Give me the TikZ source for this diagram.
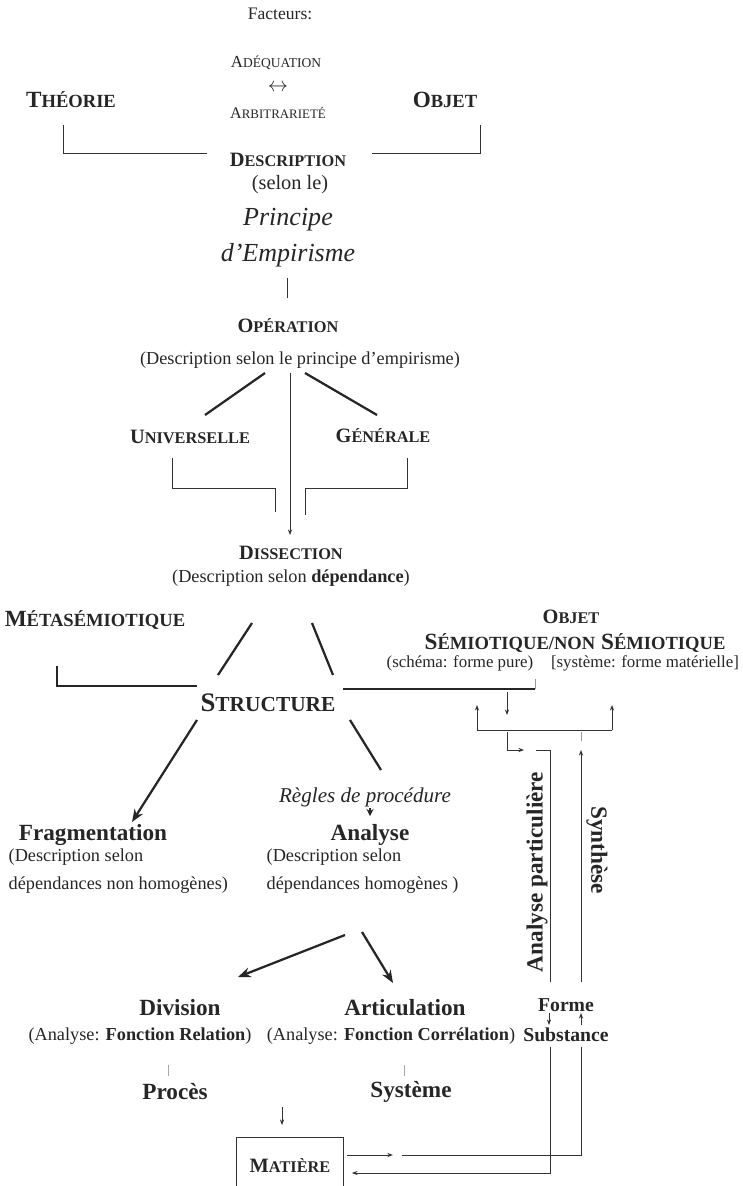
\documentclass[tikz,border=0pt]{standalone}
\usepackage{fontspec}
\setmainfont{Liberation Serif}
\usetikzlibrary{arrows.meta,calc,positioning}
\newcommand{\fsc}[2]{#1\scalebox{0.8}{#2}}

\begin{document}
\begin{tikzpicture}[
x=0.025cm, y=-0.025cm,
every node/.style={inner sep=1pt, text=black!85},
heading/.style={font=\bfseries\fontsize{16.5}{19}\selectfont},
subhead/.style={font=\bfseries\fontsize{14.5}{17}\selectfont},
gloss/.style={font=\fontsize{13}{20}\selectfont},
term/.style={font=\bfseries\fontsize{16.5}{19}\selectfont},
minorterm/.style={font=\bfseries\fontsize{14}{16}\selectfont},
motto/.style={font=\itshape\fontsize{18.5}{21}\selectfont},
fineline/.style={draw=black!80, line width=0.6pt},
midline/.style={draw=black!85, line width=1.3pt},
heavyline/.style={draw=black!85, line width=1.6pt},
tinyarrow/.style={fineline, -{Stealth[length=4pt,width=3pt]}},
bigarrow/.style={heavyline, -{Stealth[length=9pt,width=7pt]}}
]
    \useasboundingbox (0,0) rectangle (743,1186);

    % Top: theorie / objet
    \node (facteurs) at (280,14) [font=\fontsize{12.5}{15}\selectfont] {Facteurs:};
    \node (adeq) at (276,63) [font=\fontsize{12}{14}\selectfont] {\fsc{A}{DÉQUATION}};
    \node (lr) at (278,88) [font=\fontsize{15}{17}\selectfont] {$\leftrightarrow$};
    \node (arbi) at (278,113) [font=\fontsize{11.5}{14}\selectfont] {\fsc{A}{RBITRARIETÉ}};
    \node[heading] (theo) at (71,100) {\fsc{T}{HÉORIE}};
    \node[heading] (objet) at (445,100) {\fsc{O}{BJET}};
    \node[subhead] (desc) at (288,160) {\fsc{D}{ESCRIPTION}};
    \node (selon) at (290,185) [font=\fontsize{14.5}{17}\selectfont] {(selon le)};
    \node[motto] (princ) at (288,220) {Principe};
    \node[motto] (empir) at (288,255) {d'Empirisme};

    \draw[fineline] ($(theo)+(-8,25)$) |- ($(desc)+(-81,-7)$);
    \draw[fineline] ($(objet)+(35,25)$) |- ($(desc)+(84,-7)$);

    % Operation
    \node[subhead] (oper) at (288,326) {\fsc{O}{PÉRATION}};
    \node[gloss] (operd) at (300,360) {(Description selon le principe d'empirisme)};
    \node[subhead] (univ) at (190,437) {\fsc{U}{NIVERSELLE}};
    \node[subhead] (gene) at (383,436) {\fsc{G}{ÉNÉRALE}};
    \node[subhead] (diss) at (291,553) {\fsc{D}{ISSECTION}};
    \node[gloss] (dissd) at (291,578) {(Description selon \textbf{dépendance})};

    \draw[fineline] ($(empir)+(-1,23)$) -- ($(oper)+(-1,-28)$);
    \draw[heavyline] ($(operd)+(-35,13)$) -- ($(univ)+(15,-22)$);
    \draw[heavyline] ($(operd)+(5,13)$) -- ($(gene)+(-6,-21)$);
    \draw[tinyarrow] ($(operd)+(-10,13)$) -- ($(diss)+(-1,-18)$);
    \draw[fineline] ($(univ)+(-18,21)$) |- ($(diss)+(-16,-65)$) -- ($(diss)+(-16,-41)$);
    \draw[fineline] ($(gene)+(24,22)$) |- ($(diss)+(14,-65)$) -- ($(diss)+(14,-38)$);

    % Structure
    \node[heading] (meta) at (95,620) {\fsc{M}{ÉTASÉMIOTIQUE}};
    \node (struct) at (268,703) [font=\bfseries\fontsize{19}{22}\selectfont] {\fsc{S}{TRUCTURE}};
    \node[subhead] (objet2) at (571,617) {\fsc{O}{BJET}};
    \node[heading] (semio) at (575,643) {\fsc{S}{ÉMIOTIQUE/NON} \fsc{S}{ÉMIOTIQUE}};
    \node (schema) at (460,663) [font=\fontsize{12}{14}\selectfont] {(schéma: forme pure)};
    \node (systeme) at (645,663) [font=\fontsize{12}{14}\selectfont] {[système: forme matérielle]};

    \draw[heavyline] ($(dissd)+(-39,45)$) -- ($(struct)+(-50,-28)$);
    \draw[heavyline] ($(dissd)+(21,45)$) -- ($(struct)+(65,-28)$);
    \draw[midline] ($(meta)+(-38,46)$) |- ($(struct)+(-71,-17)$);
    \draw[midline] ($(struct)+(75,-14)$) -- ($(schema)+(75,26)$);
    \draw[fineline, black!40] ($(schema)+(75,26)$) -- ++(0,-10);

    % Fragmentation / Analyse
    \node (regles) at (365,797) [font=\itshape\fontsize{15}{18}\selectfont] {Règles de procédure};
    \node[term] (frag) at (93,835) {Fragmentation};
    \node[gloss, align=left, anchor=west] (fragd) at (7,871) {(Description selon\\dépendances non homogènes)};
    \node[term] (analyse) at (370,835) {Analyse};
    \node[gloss, align=left, anchor=west] (analysed) at (265,871) {(Description selon\\dépendances homogènes )};

    \draw[bigarrow] ($(struct)+(-71,17)$) -- ($(frag)+(39,-13)$);
    \draw[heavyline] ($(struct)+(82,17)$) -- ($(regles)+(16,-27)$);
    \draw[draw=black!85, line width=1pt, -{Stealth[length=5pt,width=5pt]}] ($(regles)+(5,11)$) -- ($(analyse)+(0,-19)$);

    % Division / Articulation
    \node[term] (divi) at (180,1008) {Division};
    \node[term] (artic) at (405,1008) {Articulation};
    \node[gloss] (divid) at (140,1036) {(Analyse: \textbf{Fonction Relation})};
    \node[gloss] (articd) at (391,1036) {(Analyse: \textbf{Fonction Corrélation})};
    \node[term] (proces) at (175,1092) {Procès};
    \node[term] (syst) at (411,1092) {Système};
    \node[draw=black!80, line width=0.6pt, minimum width=2.675cm, minimum height=1.4cm, subhead] (matiere) at (290,1165) {\fsc{M}{ATIÈRE}};

    \draw[bigarrow] ($(analysed.west)+(80,64)$) -- ($(divi)+(58,-31)$);
    \draw[bigarrow] ($(analysed.west)+(97,61)$) -- ($(artic)+(-12,-25)$);
    \draw[fineline, black!35] ($(divid)+(28,29)$) -- ++(0,11);
    \draw[fineline, black!35] ($(articd)+(13,29)$) -- ++(0,11);
    \draw[tinyarrow] ($(matiere)+(-8,-58)$) -- ($(matiere)+(-8,-40)$);

    % Forme / Substance
    \node[minorterm] (forme) at (566,1005) {Forme};
    \node[minorterm] (subst) at (566,1035) {Substance};
    \node[term, rotate=90] (anpart) at (537,872) {Analyse particulière};
    \node[term, rotate=-90] (synth) at (597,850) {Synthèse};

    \coordinate (brl) at ($(schema)+(17,67)$);
    \coordinate (brr) at ($(systeme)+(-33,67)$);
    \draw[fineline] (brl) -- (brr);
    \draw[tinyarrow] (brl) -- ++(0,-25);
    \draw[tinyarrow] (brr) -- ++(0,-25);
    \draw[tinyarrow] ($(schema)+(47,29)$) -- ++(0,23);
    \draw[tinyarrow] ($(brl)+(30,2)$) |- ++(17,18);
    \draw[fineline, black!40] ($(brr)+(-31,2)$) -- ++(0,9);
    \draw[tinyarrow] ($(forme)+(15,-23)$) -- ($(brr)+(-31,20)$);
    \draw[fineline] ($(forme)+(-16,-23)$) -- ($(brl)+(73,20)$) -- ($(brl)+(59,20)$);

    \draw[tinyarrow] ($(forme)+(-17,8)$) -- ($(subst)+(-17,-10)$);
    \draw[tinyarrow] ($(subst)+(15,-10)$) -- ($(forme)+(15,8)$);
    \draw[tinyarrow] ($(matiere.east)+(3,-10)$) -- ++(46,0);
    \draw[fineline] ($(matiere.east)+(58,-10)$) -| ($(subst)+(15,12)$);
    \draw[tinyarrow] ($(subst)+(-16,12)$) |- ($(matiere.east)+(8,8)$);

\end{tikzpicture}
\end{document}
